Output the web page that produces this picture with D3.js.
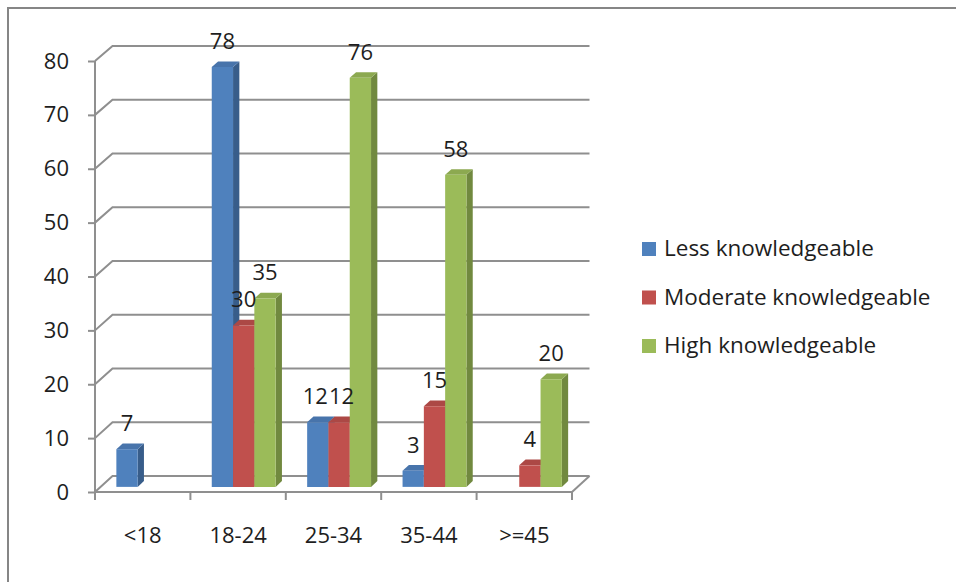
<!DOCTYPE html>
<html>
<head>
<meta charset="utf-8">
<script src="https://cdn.jsdelivr.net/npm/d3@7"></script>
<style>
  html, body { margin: 0; padding: 0; background: #fff; }
  svg { display: block; }
  text { font-family: "Open Sans", Lato, sans-serif; fill: #1e1e1e; }
</style>
</head>
<body>
<svg id="chart" width="956" height="582"></svg>
<script>
// Knowledge level by age group
const categories = ["<18", "18-24", "25-34", "35-44", ">=45"];
const seriesNames = ["Less knowledgeable", "Moderate knowledgeable", "High knowledgeable"];
const lessValues = [7, 78, 12, 3, null];
const moderateValues = [null, 30, 12, 15, 4];
const highValues = [null, 35, 76, 58, 20];
const yTicks = [0, 10, 20, 30, 40, 50, 60, 70, 80];

const seriesValues = [lessValues, moderateValues, highValues];
const palette = [
  { front: "#4F81BD", top: "#4874AB", side: "#385D8A" },
  { front: "#C0504D", top: "#AC4845", side: "#8C3A38" },
  { front: "#9BBB59", top: "#8CA950", side: "#71893F" }
];
const FONT = "Open Sans";
const FS = 22;
const LEGEND_FS = 22.5;

const svg = d3.select("#chart");

// outer frame
svg.append("rect")
  .attr("x", 8).attr("y", 8).attr("width", 1000).attr("height", 1000)
  .attr("fill", "none").attr("stroke", "#868686").attr("stroke-width", 2);

// front plane scales
const x = d3.scaleBand().domain(categories).range([95, 572]).paddingInner(0).paddingOuter(0);
const yFront = d3.scaleLinear().domain([0, 80]).range([492, 61]);
const yBack = d3.scaleLinear().domain([0, 80]).range([476, 46]);
const depthX = 17.5;

// project a front-plane x and a value onto depth fraction t (0 = front, 1 = back wall)
function P(xf, v, t) {
  return [xf + depthX * t, yFront(v) + (yBack(v) - yFront(v)) * t];
}

const grid = svg.append("g").attr("stroke", "#8f8f8f").attr("stroke-width", 2).attr("fill", "none");

// back wall gridlines plus the left-wall diagonals
yTicks.forEach(v => {
  const a = P(95, v, 0), b = P(95, v, 1), c = P(572, v, 1);
  grid.append("path").attr("d", `M${a[0]},${a[1]}L${b[0]},${b[1]}L${c[0]},${c[1]}`);
});

// floor right edge
{
  const a = P(572, 0, 0), b = P(572, 0, 1);
  grid.append("path").attr("d", `M${a[0]},${a[1]}L${b[0]},${b[1]}`);
}

// value axis (front)
const yAxisG = svg.append("g").attr("transform", "translate(95,0)")
  .call(d3.axisLeft(yFront).tickValues(yTicks).tickSize(7).tickPadding(19).tickFormat(d3.format("d")));
yAxisG.select(".domain").attr("stroke", "#8f8f8f").attr("stroke-width", 2).attr("d", `M0,${yFront(80)}V${yFront(0)}`);
yAxisG.selectAll(".tick line").attr("stroke", "#8f8f8f").attr("stroke-width", 2);
yAxisG.selectAll(".tick text").attr("font-size", FS).attr("font-family", FONT).attr("fill", "#1e1e1e");

// category axis (front)
const xAxisG = svg.append("g").attr("transform", `translate(0,${yFront(0)})`)
  .call(d3.axisBottom(x).tickSize(0).tickPadding(35));
xAxisG.select(".domain").attr("stroke", "#8f8f8f").attr("stroke-width", 2).attr("d", `M95,0H572`);
xAxisG.selectAll(".tick text").attr("font-size", FS).attr("font-family", FONT).attr("fill", "#1e1e1e");
// tick marks at category boundaries
const bounds = categories.map(c => x(c)).concat([572]);
xAxisG.selectAll(".bound").data(bounds).join("line")
  .attr("x1", d => d).attr("x2", d => d).attr("y1", 0).attr("y2", 8)
  .attr("stroke", "#8f8f8f").attr("stroke-width", 2);

// bars
const inner = d3.scaleBand().domain(d3.range(3)).range([0, x.bandwidth()]).paddingOuter(0.74).paddingInner(0);
const tFront = 0.32, tBack = 0.68;
const bars = svg.append("g");
const labels = svg.append("g");

categories.forEach((cat, ci) => {
  let prevLabel = null;
  seriesValues.forEach((vals, si) => {
    const v = vals[ci];
    if (v == null) return;
    const x0 = x(cat) + inner(si), x1 = x0 + inner.bandwidth();
    const col = palette[si];
    const fbl = P(x0, 0, tFront), fbr = P(x1, 0, tFront);
    const ftl = P(x0, v, tFront), ftr = P(x1, v, tFront);
    const btl = P(x0, v, tBack), btr = P(x1, v, tBack), bbr = P(x1, 0, tBack);
    const g = bars.append("g");
    // right side face
    g.append("path").attr("fill", col.side)
      .attr("d", `M${fbr}L${ftr}L${btr}L${bbr}Z`);
    // top face
    g.append("path").attr("fill", col.top)
      .attr("d", `M${ftl}L${btl}L${btr}L${ftr}Z`);
    // front face
    g.append("path").attr("fill", col.front)
      .attr("d", `M${fbl}L${ftl}L${ftr}L${fbr}Z`);
    // value label
    const lbl = labels.append("text")
      .attr("x", (ftl[0] + ftr[0]) / 2)
      .attr("y", ftl[1] - 18)
      .attr("text-anchor", "middle")
      .attr("font-size", FS)
      .text(v);
    // push apart neighbouring labels that sit on the same line
    if (prevLabel && Math.abs(+prevLabel.attr("y") - +lbl.attr("y")) < 14) {
      const a = prevLabel.node().getBBox(), b = lbl.node().getBBox();
      const overlap = a.x + a.width + 1 - b.x;
      if (overlap > 0) {
        prevLabel.attr("x", +prevLabel.attr("x") - overlap / 2);
        lbl.attr("x", +lbl.attr("x") + overlap / 2);
      }
    }
    prevLabel = lbl;
  });
});

// legend
const legend = svg.append("g");
seriesNames.forEach((name, i) => {
  const base = 256 + i * 48.5;
  legend.append("rect").attr("x", 642).attr("y", base - 14).attr("width", 14).attr("height", 14)
    .attr("fill", palette[i].front);
  legend.append("text").attr("x", 664).attr("y", base).attr("font-size", LEGEND_FS).text(name);
});
</script>
</body>
</html>
